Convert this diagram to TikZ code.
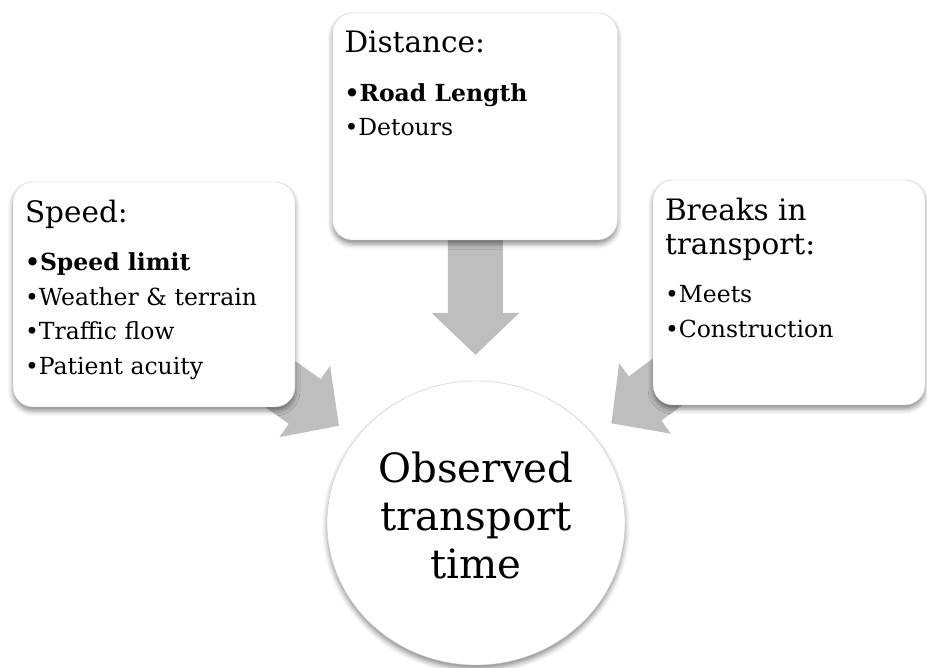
\documentclass[tikz,border=0pt]{standalone}
\usepackage{fontspec}
\setmainfont{DejaVu Serif}
\usetikzlibrary{arrows.meta,shapes.geometric,shadows.blur,backgrounds}
\definecolor{arrowgray}{RGB}{190,190,190}
\definecolor{boxline}{RGB}{205,205,205}
\newcommand{\headfont}{\fontsize{29.5}{34}\selectfont}
\newcommand{\itemfont}{\fontsize{23.5}{34.5}\selectfont}
\begin{document}
\begin{tikzpicture}[x=1pt,y=-1pt,
  factorbox/.style={draw=boxline,fill=white,rounded corners=20pt,
    inner xsep=12pt,inner ysep=18pt,
    blur shadow={shadow xshift=0pt,shadow yshift=-4pt,shadow blur radius=5pt,shadow opacity=45}},
  timecircle/.style={ellipse,draw=boxline,fill=white,inner sep=0pt,
    minimum width=298pt,minimum height=284pt,align=center,text depth=16pt,
    font=\fontsize{40.3}{48}\selectfont,
    blur shadow={shadow xshift=0pt,shadow yshift=-4pt,shadow blur radius=5pt,shadow opacity=45}},
  flow/.style={arrowgray,line width=55pt,shorten >=168pt,
    -{Triangle[width=85pt,length=42pt]}}]
\useasboundingbox (0,0) rectangle (927,668);

\node[factorbox] (speed) at (154,294.5) {\parbox[t][189pt][t]{258pt}{\raggedright
  {\headfont Speed:\par}\vspace{14pt}
  {\itemfont\textbf{•Speed limit}\par •Weather \& terrain\par •Traffic flow\par •Patient acuity\par}}};
\node[factorbox] (dist) at (475,126.5) {\parbox[t][191pt][t]{261pt}{\raggedright
  {\headfont Distance:\par}\vspace{14pt}
  {\itemfont\textbf{•Road Length}\par •Detours\par}}};
\node[factorbox] (breaks) at (789,292.5) {\parbox[t][189pt][t]{248pt}{\raggedright
  {\headfont Breaks in\par transport:\par}\vspace{14pt}
  {\itemfont •Meets\par •Construction\par}}};

\node[timecircle] (obs) at (476,523) {Observed\\transport\\time};

\begin{scope}[on background layer]
\draw[flow] (speed.center) -- (obs.center);
\draw[flow] (dist.center) -- (obs.center);
\draw[flow] (breaks.center) -- (obs.center);
\end{scope}

\end{tikzpicture}
\end{document}
